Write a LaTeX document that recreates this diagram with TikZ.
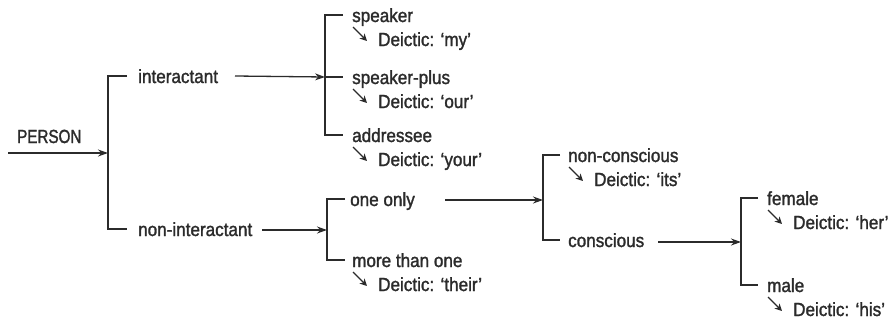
\documentclass[tikz,border=0pt]{standalone}
\usepackage{fontspec}
\setmainfont{Liberation Sans}[FakeStretch=0.9,FakeBold=1.5]
\newfontfamily\capsfont{Liberation Sans}[FakeStretch=0.8,FakeBold=1.5]
\usetikzlibrary{arrows.meta}
\definecolor{ink}{HTML}{2B2B2B}
\begin{document}
\begin{tikzpicture}[x=1pt,y=-1pt,
  lbl/.style={inner sep=0pt,anchor=base west,text=ink,font=\fontsize{19}{22}\selectfont},
  brk/.style={draw=ink,line width=1.9pt},
  arr/.style={draw=ink,line width=1.3pt,-{Stealth[length=10pt,width=7pt]}},
  sarr/.style={draw=ink,line width=1.3pt,-{Stealth[length=7pt,width=7pt,inset=2pt]}}]
\useasboundingbox (0,0) rectangle (892,324);

% labels
\node[lbl] (person) at (17,143) {\capsfont PERSON};
\node[lbl] (inter) at (138,83) {interactant};
\node[lbl] (ninter) at (138,236) {non-interactant};
\node[lbl] (spk) at (352,22) {speaker};
\node[lbl] (spkp) at (352,84) {speaker-plus};
\node[lbl] (addr) at (352,142) {addressee};
\node[lbl] (one) at (350,206) {one only};
\node[lbl] (more) at (352,267) {more than one};
\node[lbl] (ncon) at (568,162) {non-conscious};
\node[lbl] (con) at (568,247) {conscious};
\node[lbl] (fem) at (767,205) {female};
\node[lbl] (male) at (767,292) {male};

% deictic lines
\foreach \n/\t in {spk/my,spkp/our,addr/your,more/their,ncon/its,fem/her,male/his}{
  \node[lbl] (\n d) at ([shift={(26,24)}]\n.base west) {Deictic: ‘\t’};
  \draw[sarr] ([shift={(1,5)}]\n.base west) -- ([shift={(15,19)}]\n.base west);
}

% bracket joints
\coordinate (b1) at (108,153);
\coordinate (b2) at (325,77);
\coordinate (b3) at (327,230);
\coordinate (b4) at (543,200);
\coordinate (b5) at (741,242);

% brackets
\draw[brk] (127,76) -| (108,229) -- (127,229);
\draw[brk] (343,15) -| (325,135) -- (343,135);
\draw[brk] (325,77) -- (343,77);
\draw[brk] (345,199) -| (327,260) -- (345,260);
\draw[brk] (560,155) -| (543,240) -- (560,240);
\draw[brk] (758,198) -| (741,285) -- (758,285);

% arrow starts
\coordinate (s0) at (8,153);
\coordinate (s1) at (235,76);
\coordinate (s2) at (262,230);
\coordinate (s3) at (445,200);
\coordinate (s4) at (658,242);

\draw[arr] (s0) -- (b1);
\draw[arr] (s1) -- (b2);
\draw[arr] (s2) -- (b3);
\draw[arr] (s3) -- (b4);
\draw[arr] (s4) -- (b5);
\end{tikzpicture}
\end{document}
